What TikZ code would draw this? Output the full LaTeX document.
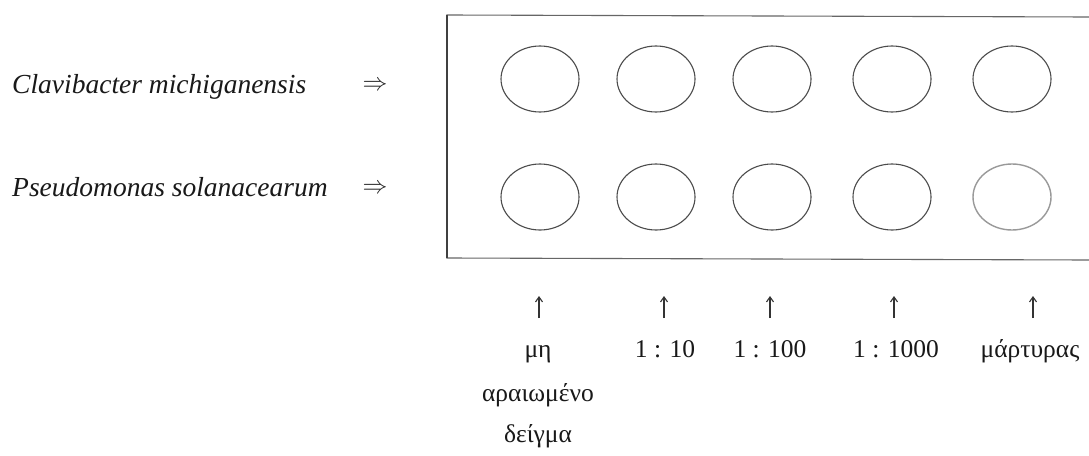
\documentclass[tikz,border=0pt]{standalone}
\usepackage{fontspec}
\setmainfont{Liberation Serif}
\usetikzlibrary{shapes.geometric,arrows.meta}
\begin{document}
\begin{tikzpicture}[x=1pt,y=-1pt,
  species/.style={font=\fontsize{27.5}{30}\selectfont\itshape, text=black!90, inner sep=0pt, anchor=base west},
  dbl/.style={font=\fontsize{24}{26}\selectfont, text=black!85, inner sep=0pt},
  well/.style={draw=black!70, line width=1.1pt, ellipse, minimum width=78pt, minimum height=66pt, inner sep=0pt},
  lbl/.style={font=\fontsize{25.5}{28}\selectfont, text=black!90, inner sep=0pt, anchor=base},
  pointer/.style={draw=black!80, line width=1.1pt, -{Straight Barb[length=5pt,width=7pt]}},
  plate/.style={draw=black!60, line width=1.1pt}
]
\useasboundingbox[fill=white] (0,0) rectangle (1089,455);

% plate outline (open to the right)
\coordinate (tr) at (1089,17);
\coordinate (tl) at (447,15);
\coordinate (bl) at (447,258);
\coordinate (br) at (1089,260);
\draw[plate] (tr) -- (tl) -- (bl) -- (br);
\draw[draw=black!75, line width=1.6pt] (tl) -- (bl);

% species labels
\node[species] (cm) at (12,93) {Clavibacter michiganensis};
\node[species] (ps) at (12,196) {Pseudomonas solanacearum};
\node[dbl] (cmarr) at (375,86) {$\Rightarrow$};
\node[dbl] (psarr) at (375,189) {$\Rightarrow$};

% wells
\foreach \x [count=\i] in {540,656,772,892,1012} {
  \node[well] (a\i) at (\x,79) {};
}
\foreach \x [count=\i] in {540,656,772,892} {
  \node[well] (b\i) at (\x,197) {};
}
\node[well, draw=black!40, line width=1.4pt] (b5) at (1012,197) {};

% pointers
\foreach \x [count=\i] in {539,664,770,894,1033} {
  \coordinate (ps\i) at (\x,318);
  \coordinate (pe\i) at (\x,296);
  \draw[pointer] (ps\i) -- (pe\i);
}

% labels
\node[lbl] (l1a) at (538,357) {μη};
\node[lbl] (l1b) at (538,401) {αραιωμένο};
\node[lbl] (l1c) at (538,442) {δείγμα};
\node[lbl] (l2) at (665,357) {1 : 10};
\node[lbl] (l3) at (770,357) {1 : 100};
\node[lbl] (l4) at (896,357) {1 : 1000};
\node[lbl] (l5) at (1030,357) {μάρτυρας};
\end{tikzpicture}
\end{document}
